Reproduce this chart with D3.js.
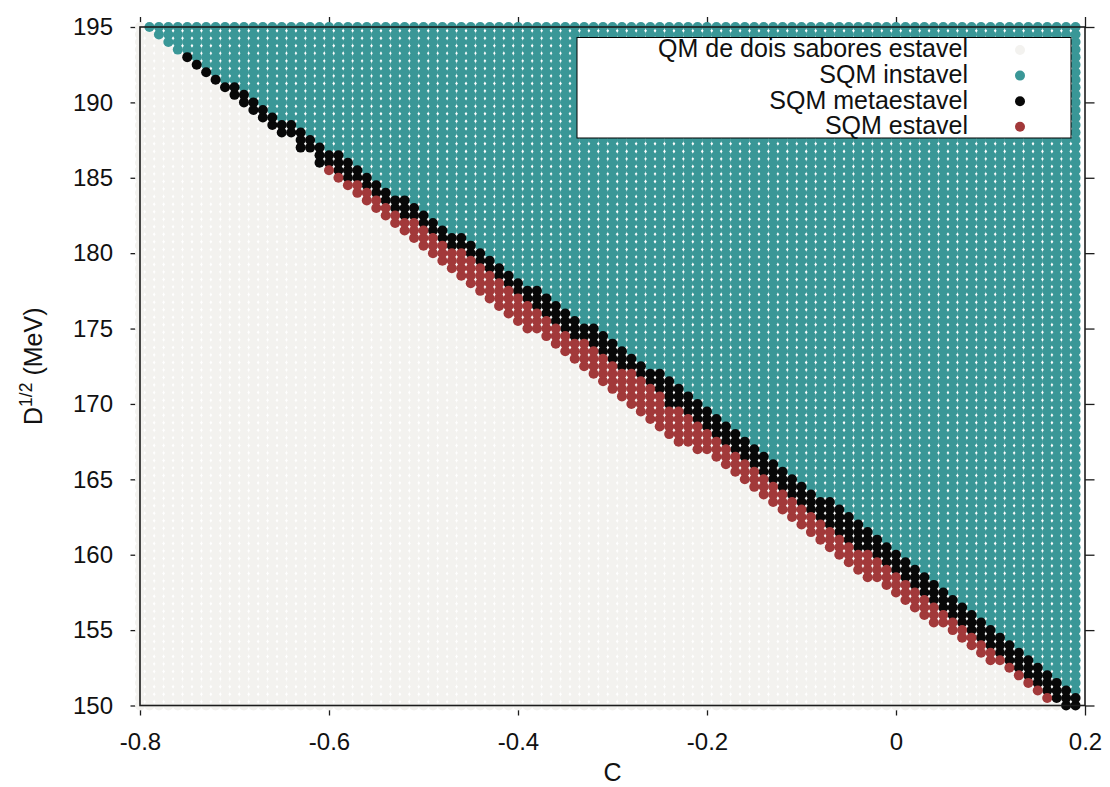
<!DOCTYPE html>
<html>
<head>
<meta charset="utf-8">
<script src="https://cdn.jsdelivr.net/npm/d3@7"></script>
<style>
  html, body { margin: 0; padding: 0; background: #ffffff; }
  svg { display: block; font-family: "Liberation Sans", Arial, Helvetica, sans-serif; }
</style>
</head>
<body>
<svg id="chart" width="1110" height="787"></svg>
<script>
// Parameter grid: C on the horizontal axis, D^(1/2) in MeV on the vertical axis
const cValues = [
  -0.80,-0.79,-0.78,-0.77,-0.76,-0.75,-0.74,-0.73,-0.72,-0.71,
  -0.70,-0.69,-0.68,-0.67,-0.66,-0.65,-0.64,-0.63,-0.62,-0.61,
  -0.60,-0.59,-0.58,-0.57,-0.56,-0.55,-0.54,-0.53,-0.52,-0.51,
  -0.50,-0.49,-0.48,-0.47,-0.46,-0.45,-0.44,-0.43,-0.42,-0.41,
  -0.40,-0.39,-0.38,-0.37,-0.36,-0.35,-0.34,-0.33,-0.32,-0.31,
  -0.30,-0.29,-0.28,-0.27,-0.26,-0.25,-0.24,-0.23,-0.22,-0.21,
  -0.20,-0.19,-0.18,-0.17,-0.16,-0.15,-0.14,-0.13,-0.12,-0.11,
  -0.10,-0.09,-0.08,-0.07,-0.06,-0.05,-0.04,-0.03,-0.02,-0.01,
   0.00, 0.01, 0.02, 0.03, 0.04, 0.05, 0.06, 0.07, 0.08, 0.09,
   0.10, 0.11, 0.12, 0.13, 0.14, 0.15, 0.16, 0.17, 0.18, 0.19
];
const dValues = [
  150,150.5,151,151.5,152,152.5,153,153.5,154,154.5,
  155,155.5,156,156.5,157,157.5,158,158.5,159,159.5,
  160,160.5,161,161.5,162,162.5,163,163.5,164,164.5,
  165,165.5,166,166.5,167,167.5,168,168.5,169,169.5,
  170,170.5,171,171.5,172,172.5,173,173.5,174,174.5,
  175,175.5,176,176.5,177,177.5,178,178.5,179,179.5,
  180,180.5,181,181.5,182,182.5,183,183.5,184,184.5,
  185,185.5,186,186.5,187,187.5,188,188.5,189,189.5,
  190,190.5,191,191.5,192,192.5,193,193.5,194,194.5,
  195
];

// For each C column: lowest D^(1/2) of each phase (null = column is all two-flavour QM)
// unstable SQM for D >= tealFrom, metastable for blackFrom <= D < tealFrom,
// stable SQM for redFrom <= D < blackFrom, two-flavour QM below redFrom
const tealFrom = [
  null,195,194.5,194,193.5,193.5,193,192.5,192,191.5,
  191.5,191,190.5,190,189.5,189,189,188.5,188,187.5,
  187,187,186.5,186,185.5,185,184.5,184,184,183.5,
  183,182.5,182,181.5,181.5,181,180.5,180,179.5,179,
  178.5,178,178,177.5,177,176.5,176,175.5,175.5,175,
  174.5,174,173.5,173,172.5,172.5,172,171.5,171,170.5,
  170,169.5,169,168.5,168,167.5,167,166.5,166,165.5,
  165,164.5,164,164,163.5,163,162.5,162,161.5,161,
  160.5,160,159.5,159,158.5,158,157.5,157,156.5,156,
  155.5,155,154.5,154,153.5,153,152.5,152,151.5,151
];
const blackFrom = [
  null,195,194.5,194,193.5,193,192.5,192,191.5,191,
  190.5,190,189.5,189,188.5,188,188,187,187,186,
  186,185.5,185,185,184.5,184,183.5,183,182.5,182.5,
  182,181.5,181,180.5,180.5,180,179.5,179,178.5,178,
  177.5,177,176.5,176,175.5,175,174.5,174.5,174,173.5,
  173,172.5,172.5,172,171.5,171,170,170,169.5,169,
  168.5,168,167.5,167,166.5,166,165.5,165,164.5,164,
  163.5,163,162.5,162,161.5,161,160.5,160.5,160,159.5,
  159,158.5,158,157.5,157,156.5,156,155.5,155,154.5,
  154,153.5,153,152.5,152,151.5,151,150.5,150,150
];
const redFrom = [
  null,195,194.5,194,193.5,193,192.5,192,191.5,191,
  190.5,190,189.5,189,188.5,188,188,187,187,186,
  185.5,185,184.5,184,183.5,183,182.5,182,181.5,181,
  180.5,180,179.5,179,178.5,178,177.5,177,176.5,176,
  175.5,175,175,174.5,174,173.5,173,172.5,172,171.5,
  171,170.5,170,169.5,169,168.5,168,167.5,167.5,167,
  167,166.5,166,165.5,165,164.5,164,163.5,163,162.5,
  162,161.5,161,160.5,160,159.5,159,158.5,158.5,158,
  157.5,157,156.5,156,155.5,155.5,155,154.5,154,153.5,
  153,153,152.5,152,151.5,151,150.5,150.5,150,150
];

const xTicks = [-0.8, -0.6, -0.4, -0.2, 0, 0.2];
const xTickLabels = ["-0.8", "-0.6", "-0.4", "-0.2", "0", "0.2"];
const yTicks = [150, 155, 160, 165, 170, 175, 180, 185, 190, 195];

const seriesNames = ["QM de dois sabores estavel", "SQM instavel", "SQM metaestavel", "SQM estavel"];
const seriesColors = ["#f3f2ef", "#3a9797", "#080808", "#a2393a"];

const svg = d3.select("#chart");
const plot = { left: 140, right: 1085, top: 27, bottom: 705.5 };
const x = d3.scaleLinear().domain([-0.8, 0.2]).range([plot.left, plot.right]);
const y = d3.scaleLinear().domain([150, 195]).range([plot.bottom, plot.top]);
const dotR = 5;
const axisColor = "#1c1c1c";

// Phase of every grid point
const points = [];
cValues.forEach((c, i) => {
  dValues.forEach(d => {
    let s = 0;
    if (tealFrom[i] !== null) {
      if (d >= tealFrom[i]) s = 1;
      else if (d >= blackFrom[i]) s = 2;
      else if (d >= redFrom[i]) s = 3;
    }
    points.push({ c, d, s });
  });
});

// Tick marks sit behind the points; the frame is drawn over them
function styleAxis(g, keepText) {
  g.select(".domain").remove();
  g.selectAll(".tick line").attr("stroke", axisColor).attr("stroke-width", 1.3);
  if (!keepText) g.selectAll(".tick text").remove();
  g.selectAll(".tick text").attr("fill", "#111").attr("font-size", 24)
    .attr("font-family", "\"Liberation Sans\", Arial, sans-serif");
}

svg.append("g").attr("transform", `translate(${plot.left},0)`)
  .call(d3.axisLeft(y).tickValues(yTicks).tickSize(9.5).tickPadding(17.5).tickFormat(d3.format("d")))
  .call(g => styleAxis(g, true));
svg.append("g").attr("transform", `translate(${plot.right},0)`)
  .call(d3.axisRight(y).tickValues(yTicks).tickSize(9.5))
  .call(g => styleAxis(g, false));
svg.append("g").attr("transform", `translate(0,${plot.bottom})`)
  .call(d3.axisBottom(x).tickValues(xTicks).tickSize(10).tickPadding(17)
    .tickFormat((d, i) => xTickLabels[i]))
  .call(g => styleAxis(g, true));
svg.append("g").attr("transform", `translate(0,${plot.top})`)
  .call(d3.axisTop(x).tickValues(xTicks).tickSize(10))
  .call(g => styleAxis(g, false));

// Points, one layer per phase in legend order
const layers = svg.append("g");
seriesNames.forEach((name, s) => {
  layers.append("g")
    .attr("fill", seriesColors[s])
    .selectAll("circle")
    .data(points.filter(p => p.s === s))
    .join("circle")
    .attr("cx", p => x(p.c))
    .attr("cy", p => y(p.d))
    .attr("r", dotR);
});

// Frame
svg.append("rect")
  .attr("x", plot.left).attr("y", plot.top)
  .attr("width", plot.right - plot.left).attr("height", plot.bottom - plot.top)
  .attr("fill", "none").attr("stroke", axisColor).attr("stroke-width", 1.6);

// Legend
const legend = svg.append("g");
legend.append("rect")
  .attr("x", 577).attr("y", 37.5).attr("width", 494).attr("height", 100.5)
  .attr("fill", "#ffffff").attr("stroke", "#000").attr("stroke-width", 1);
seriesNames.forEach((name, s) => {
  const cy = 50 + s * 25.6;
  legend.append("text")
    .attr("x", 968).attr("y", cy + 7.3)
    .attr("text-anchor", "end").attr("font-size", 25).attr("fill", "#111")
    .text(name);
  legend.append("circle")
    .attr("cx", 1020).attr("cy", cy).attr("r", dotR)
    .attr("fill", seriesColors[s]);
});

// Axis titles
svg.append("text")
  .attr("x", (plot.left + plot.right) / 2).attr("y", 781)
  .attr("text-anchor", "middle").attr("font-size", 25).attr("fill", "#111")
  .text("C");

const yTitle = svg.append("text")
  .attr("transform", `translate(42,${(plot.top + plot.bottom) / 2}) rotate(-90)`)
  .attr("text-anchor", "middle").attr("font-size", 25).attr("fill", "#111");
yTitle.append("tspan").text("D");
yTitle.append("tspan").attr("font-size", 17.5).attr("dy", -10).text("1/2");
yTitle.append("tspan").attr("dy", 10).text(" (MeV)");
</script>
</body>
</html>
